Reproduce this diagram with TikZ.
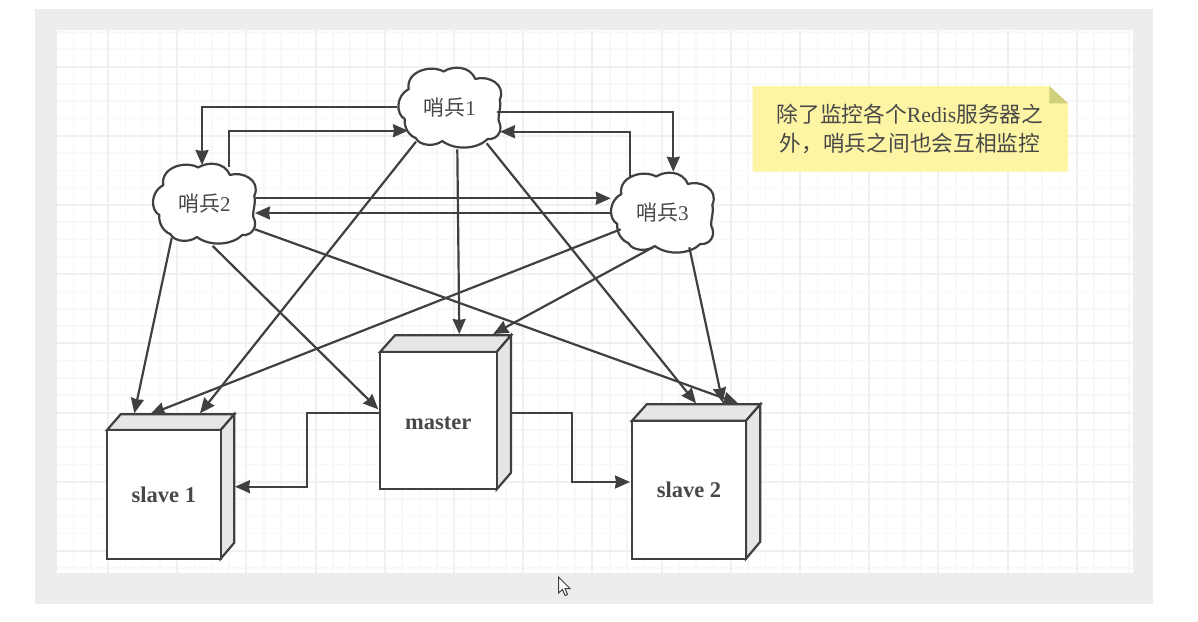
\documentclass[tikz,border=0pt]{standalone}
\usepackage{fontspec}
\setmainfont{Liberation Serif}
\newfontfamily\cjk{Noto Sans CJK SC}
\usetikzlibrary{arrows.meta}
\definecolor{inkgrey}{HTML}{404040}
\definecolor{textgrey}{HTML}{484848}
\definecolor{framegrey}{HTML}{EDEDED}
\definecolor{gridmajor}{HTML}{F0F0F0}
\definecolor{gridminor}{HTML}{F8F8F8}
\definecolor{facegrey}{HTML}{E6E6E6}
\definecolor{notefill}{HTML}{FDF5A4}
\definecolor{notefold}{HTML}{CFCF7C}
\tikzset{
  line/.style={draw=inkgrey,line width=2.2pt,line join=miter},
  link/.style={line,-{Stealth[length=15pt,width=13pt,inset=1pt]}},
  sentinel/.style={minimum width=103pt,minimum height=80pt,inner sep=0pt,outer sep=0pt,
    font=\fontsize{21pt}{24pt}\selectfont,text=textgrey},
  frontface/.style={line,fill=white,inner sep=0pt,outer sep=0pt,
    font=\fontsize{22.5pt}{26pt}\selectfont\bfseries,text=textgrey},
  sideface/.style={line,fill=facegrey},
  puff/.style={line,fill=white,line join=round}
}
% Outline of one sentinel cloud, centred on the origin of the current scope
\newcommand{\puffoutline}{
  (-6,-36.5) .. controls (2,-42) and (20,-43) .. (25.5,-29)
  .. controls (38,-33) and (57,-24) .. (50,-8)
  .. controls (52,-2) and (48,8) .. (49,13)
  .. controls (54,22) and (48,32) .. (38,31)
  .. controls (28,41) and (6,43) .. (-7.5,33)
  .. controls (-15,39) and (-30,38) .. (-34,30)
  .. controls (-40,28) and (-46,20) .. (-45,11)
  .. controls (-54,6) and (-54,-12) .. (-41,-19)
  .. controls (-44,-36) and (-20,-44) .. (-6,-36.5) -- cycle
}
\begin{document}
\begin{tikzpicture}[x=1pt,y=-1pt]
\useasboundingbox (0,0) rectangle (1198,621);
\fill[white] (0,0) rectangle (1198,621);
% Window frame and drawing canvas
\fill[framegrey] (35,9) rectangle (1153,604);
\fill[white] (57,30) rectangle (1133,573);
\begin{scope}
  \clip (57,30) rectangle (1133,573);
  \foreach \k in {0,...,63} {
    \draw[gridminor,line width=1.6pt] ({38.8+17.3*\k},30) -- ({38.8+17.3*\k},573);
  }
  \foreach \k in {0,...,32} {
    \draw[gridminor,line width=1.6pt] (57,{31.9+17.3*\k}) -- (1133,{31.9+17.3*\k});
  }
  \foreach \k in {0,...,15} {
    \draw[gridmajor,line width=2pt] ({38.8+69.2*\k},30) -- ({38.8+69.2*\k},573);
  }
  \foreach \k in {0,...,7} {
    \draw[gridmajor,line width=2pt] (57,{66.5+69.2*\k}) -- (1133,{66.5+69.2*\k});
  }
\end{scope}

% Sentinel clouds
\draw[puff,shift={(449.7,108)}] \puffoutline;
\draw[puff,shift={(204.3,204)}] \puffoutline;
\draw[puff,shift={(662.3,213)}] \puffoutline;
\node[sentinel] (s1) at (449.7,108) {{\cjk 哨兵}1};
\node[sentinel] (s2) at (204.3,204) {{\cjk 哨兵}2};
\node[sentinel] (s3) at (662.3,213) {{\cjk 哨兵}3};

% Server boxes: top and side faces, then the labelled front face
\draw[sideface] (107,430) -- (120.7,414.3) -- (234.3,414.3) -- (220.7,430) -- cycle;
\draw[sideface] (220.7,430) -- (234.3,414.3) -- (234.3,542.7) -- (220.7,558.7) -- cycle;
\node[frontface,minimum width=113.7pt,minimum height=128.7pt] (slave1) at (163.85,494.35) {slave 1};

\draw[sideface] (380,352) -- (395,335.3) -- (511,335.3) -- (496.7,352) -- cycle;
\draw[sideface] (496.7,352) -- (511,335.3) -- (511,472.7) -- (496.7,489.3) -- cycle;
\node[frontface,minimum width=116.7pt,minimum height=137.3pt] (master) at (438.35,420.65) {\raisebox{-3pt}[\height][\depth]{master}};

\draw[sideface] (632,420.7) -- (646.7,404.3) -- (760.3,404.3) -- (746,420.7) -- cycle;
\draw[sideface] (746,420.7) -- (760.3,404.3) -- (760.3,541.7) -- (746,558.7) -- cycle;
\node[frontface,minimum width=114pt,minimum height=138pt] (slave2) at (689,489.7) {slave 2};

% Monitoring between the sentinels
\draw[link] ([shift={(-52.7,-1)}]s1.center) -| ([shift={(-2.3,-39)}]s2.center);
\draw[link] ([shift={(25,-37.3)}]s2.center) |- ([shift={(-41.7,22.7)}]s1.center);
\draw[link] ([shift={(51.7,-5.7)}]s2.center) -- ([shift={(-51.6,-14.7)}]s3.center);
\draw[link] ([shift={(-50.6,0)}]s3.center) -- ([shift={(50.7,9)}]s2.center);
\draw[link] ([shift={(47,3.7)}]s1.center) -| ([shift={(11,-41.3)}]s3.center);
\draw[link] ([shift={(-32.3,-36.3)}]s3.center) |- ([shift={(50.3,23.7)}]s1.center);

% Sentinels watching the servers
\draw[link] ([shift={(-32.6,34)}]s2.center) -- ([shift={(-29.55,-81.05)}]slave1.center);
\draw[link] ([shift={(8.4,42)}]s2.center) -- ([shift={(-60.05,-11.35)}]master.center);
\draw[link] ([shift={(50.7,25.3)}]s2.center) -- ([shift={(49,-86.4)}]slave2.center);
\draw[link] ([shift={(-33.7,33.7)}]s1.center) -- ([shift={(36.15,-81.05)}]slave1.center);
\draw[link] ([shift={(7.6,41.3)}]s1.center) -- ([shift={(20.95,-86.65)}]master.center);
\draw[link] ([shift={(37,35.3)}]s1.center) -- ([shift={(7,-86.4)}]slave2.center);
\draw[link] ([shift={(-41.6,16.3)}]s3.center) -- ([shift={(-13.85,-80.05)}]slave1.center);
\draw[link] ([shift={(-9.3,34.3)}]s3.center) -- ([shift={(54.95,-86.65)}]master.center);
\draw[link] ([shift={(27,34.3)}]s3.center) -- ([shift={(33.7,-87)}]slave2.center);

% Replication from master to the slaves
\draw[link] ([shift={(-58.35,-7.95)}]master.center) -- ++(-73.35,0) |- ([shift={(71.15,-7.65)}]slave1.center);
\draw[link] ([shift={(73.35,-7.95)}]master.center) -- ++(60,0) |- ([shift={(-59,-7.7)}]slave2.center);

% Sticky note
\fill[notefill] (752.7,86) -- (1049.3,86) -- (1068,103.3) -- (1068,171.7) -- (752.7,171.7) -- cycle;
\fill[notefold] (1049.3,86) -- (1068,103.3) -- (1049.3,103.3) -- cycle;
\node[align=center,inner sep=0pt,text=textgrey,font=\fontsize{21.7pt}{28.5pt}\selectfont] (note) at (910,129)
  {{\cjk 除了监控各个}Redis{\cjk 服务器之}\\{\cjk 外，哨兵之间也会互相监控}};

% Mouse pointer
\draw[fill=white,draw=inkgrey,line width=1pt,line join=miter]
  (558.5,577) -- (558.5,593) -- (562.5,589.5) -- (565,595.5) -- (567.5,594.5) -- (565,588.5) -- (570,588.5) -- cycle;
\end{tikzpicture}
\end{document}
